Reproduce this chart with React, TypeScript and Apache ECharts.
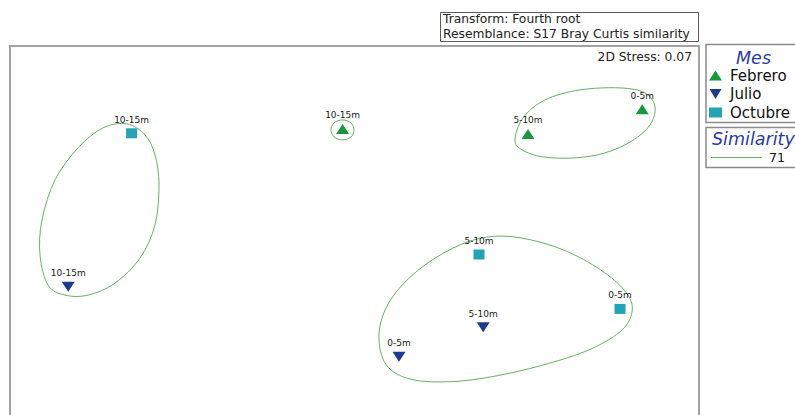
import React, { useEffect, useRef } from "react";
import * as echarts from "echarts";

// nMDS configuration (arbitrary MDS units), one array per month
const febreroLabels = ["10-15m", "5-10m", "0-5m"];
const febreroX = [-0.062, 0.865, 1.436];
const febreroY = [0.508, 0.483, 0.606];

const julioLabels = ["10-15m", "5-10m", "0-5m"];
const julioX = [-1.434, 0.641, 0.22];
const julioY = [-0.281, -0.484, -0.631];

const octubreLabels = ["10-15m", "5-10m", "0-5m"];
const octubreX = [-1.117, 0.62, 1.325];
const octubreY = [0.486, -0.12, -0.392];

// 71% Bray-Curtis similarity contours (closed outlines, listed once round)
const contourLeft: [number, number][] = [
  [-1.14, 0.533], [-1.05, 0.478], [-1.0, 0.378], [-0.98, 0.228], [-1.0, 0.028],
  [-1.075, -0.138], [-1.2, -0.263], [-1.335, -0.323], [-1.45, -0.323], [-1.535, -0.273],
  [-1.575, -0.123], [-1.565, 0.053], [-1.5, 0.253], [-1.385, 0.413], [-1.26, 0.513],
];
const contourSmall: [number, number][] = [
  [-0.062, 0.553], [-0.02, 0.538], [-0.005, 0.503], [-0.02, 0.468], [-0.062, 0.453],
  [-0.105, 0.468], [-0.12, 0.503], [-0.105, 0.538],
];
const contourTop: [number, number][] = [
  [1.125, 0.703], [1.325, 0.713], [1.45, 0.688], [1.5, 0.618], [1.475, 0.528],
  [1.385, 0.448], [1.25, 0.388], [1.1, 0.363], [0.94, 0.368], [0.835, 0.403],
  [0.8, 0.453], [0.84, 0.563], [0.95, 0.653],
];
const contourBottom: [number, number][] = [
  [0.74, -0.028], [0.925, -0.058], [1.1, -0.123], [1.265, -0.223], [1.365, -0.323],
  [1.385, -0.408], [1.335, -0.498], [1.2, -0.583], [1.025, -0.648], [0.775, -0.713],
  [0.525, -0.753], [0.3, -0.748], [0.165, -0.683], [0.12, -0.548], [0.15, -0.398],
  [0.25, -0.258], [0.4, -0.138], [0.575, -0.053],
];
const contours = [contourLeft, contourSmall, contourTop, contourBottom];

const stressText = "2D Stress: 0.07";
const transformText = "Transform: Fourth root";
const resemblanceText = "Resemblance: S17 Bray Curtis similarity";
const similarityLevel = "71";

const FONT = "DejaVu Sans";
const C_FEB = "#17983d";
const C_JUL = "#1d3a90";
const C_OCT = "#22a3b6";
const C_CONTOUR = "#66b066";
const C_TITLE = "#2c3aa6";

const DOWN_TRIANGLE = "path://M0,0L12,0L6,10Z";

function points(labels: string[], xs: number[], ys: number[]) {
  return labels.map((name, i) => ({ name, value: [xs[i], ys[i]] }));
}

function scatter(name: string, data: any[], color: string, symbol: string, size: number[]) {
  return {
    type: "scatter",
    name,
    data,
    symbol,
    symbolSize: size,
    itemStyle: { color, opacity: 1 },
    label: {
      show: true,
      position: "top",
      distance: 4,
      formatter: "{b}",
      fontFamily: FONT,
      fontSize: 9,
      color: "#222",
    },
    z: 3,
  };
}

// Closed Catmull-Rom spline through pixel points, as SVG path data
function closedSpline(p: number[][]): string {
  const n = p.length;
  let d = `M${p[0][0]},${p[0][1]}`;
  for (let i = 0; i < n; i++) {
    const p0 = p[(i - 1 + n) % n];
    const p1 = p[i];
    const p2 = p[(i + 1) % n];
    const p3 = p[(i + 2) % n];
    const c1x = p1[0] + (p2[0] - p0[0]) / 6;
    const c1y = p1[1] + (p2[1] - p0[1]) / 6;
    const c2x = p2[0] - (p3[0] - p1[0]) / 6;
    const c2y = p2[1] - (p3[1] - p1[1]) / 6;
    d += `C${c1x},${c1y},${c2x},${c2y},${p2[0]},${p2[1]}`;
  }
  return d + "Z";
}

export default function App() {
  const ref = useRef<HTMLDivElement>(null);

  useEffect(() => {
    if (!ref.current) return;
    const chart = echarts.init(ref.current, undefined, { renderer: "svg" });
    chart.setOption({
      animation: false,
      backgroundColor: "#fff",
      grid: { left: 10, top: 46, width: 690, height: 369, show: false },
      xAxis: { type: "value", min: -1.725, max: 1.725, show: false },
      yAxis: { type: "value", min: -0.9225, max: 0.9225, show: false },
      legend: [
        {
          data: ["Febrero", "Julio", "Octubre"],
          orient: "vertical",
          left: 709,
          top: 68,
          padding: 0,
          itemWidth: 13,
          itemHeight: 10,
          itemGap: 3.5,
          selectedMode: false,
          textStyle: { fontFamily: FONT, fontSize: 15, color: "#111", padding: [0, 0, 0, 3] },
        },
        {
          data: [{ name: similarityLevel, icon: "rect" }],
          left: 711,
          top: 151,
          padding: 0,
          itemWidth: 51,
          itemHeight: 1,
          selectedMode: false,
          textStyle: { fontFamily: FONT, fontSize: 12.5, color: "#111", padding: [0, 0, 0, 2] },
        },
      ],
      series: [
        {
          type: "custom",
          name: similarityLevel,
          coordinateSystem: "cartesian2d",
          data: contours.map((c, i) => ({ value: [c[0][0], c[0][1]], idx: i })),
          itemStyle: { color: C_CONTOUR },
          silent: true,
          z: 2,
          renderItem: (params: any, api: any) => {
            const outline = contours[params.dataIndex].map((pt) => api.coord(pt));
            return {
              type: "path",
              shape: { pathData: closedSpline(outline) },
              style: { fill: "none", stroke: C_CONTOUR, lineWidth: 1 },
            };
          },
        },
        scatter("Febrero", points(febreroLabels, febreroX, febreroY), C_FEB, "triangle", [13, 10]),
        scatter("Julio", points(julioLabels, julioX, julioY), C_JUL, DOWN_TRIANGLE, [13, 10]),
        scatter("Octubre", points(octubreLabels, octubreX, octubreY), C_OCT, "rect", [11, 10]),
      ],
      graphic: [
        {
          type: "polyline",
          shape: { points: [[10, 420], [10, 46], [699, 46], [699, 420]] },
          style: { stroke: "#a2a2a2", lineWidth: 2, fill: null },
          silent: true,
        },
        {
          type: "rect",
          shape: { x: 440.5, y: 12.5, width: 258, height: 29 },
          style: { stroke: "#5a5a5a", lineWidth: 1, fill: "#fff" },
          silent: true,
        },
        {
          type: "text",
          x: 443,
          y: 19,
          style: { text: transformText, font: `12.3px '${FONT}'`, fill: "#222", verticalAlign: "middle" },
        },
        {
          type: "text",
          x: 443,
          y: 33.5,
          style: { text: resemblanceText, font: `12.3px '${FONT}'`, fill: "#222", verticalAlign: "middle" },
        },
        {
          type: "text",
          x: 692,
          y: 57,
          style: { text: stressText, font: `12.3px '${FONT}'`, fill: "#222", align: "right", verticalAlign: "middle" },
        },
        {
          type: "rect",
          shape: { x: 706, y: 44.5, width: 100, height: 78 },
          style: { stroke: "#8a8a8a", lineWidth: 1.5, fill: null },
          silent: true,
        },
        {
          type: "text",
          x: 753.5,
          y: 57.5,
          style: {
            text: "Mes",
            font: `italic 17.5px '${FONT}'`,
            fill: C_TITLE,
            align: "center",
            verticalAlign: "middle",
          },
        },
        {
          type: "rect",
          shape: { x: 706, y: 127.5, width: 100, height: 40 },
          style: { stroke: "#8a8a8a", lineWidth: 1.5, fill: null },
          silent: true,
        },
        {
          type: "text",
          x: 712,
          y: 139,
          style: {
            text: "Similarity",
            font: `italic 17.5px '${FONT}'`,
            fill: C_TITLE,
            verticalAlign: "middle",
          },
        },
      ],
    });
    return () => chart.dispose();
  }, []);

  return (
    <div
      ref={ref}
      style={{ position: "absolute", left: 0, top: 0, width: 795, height: 415 }}
    />
  );
}
